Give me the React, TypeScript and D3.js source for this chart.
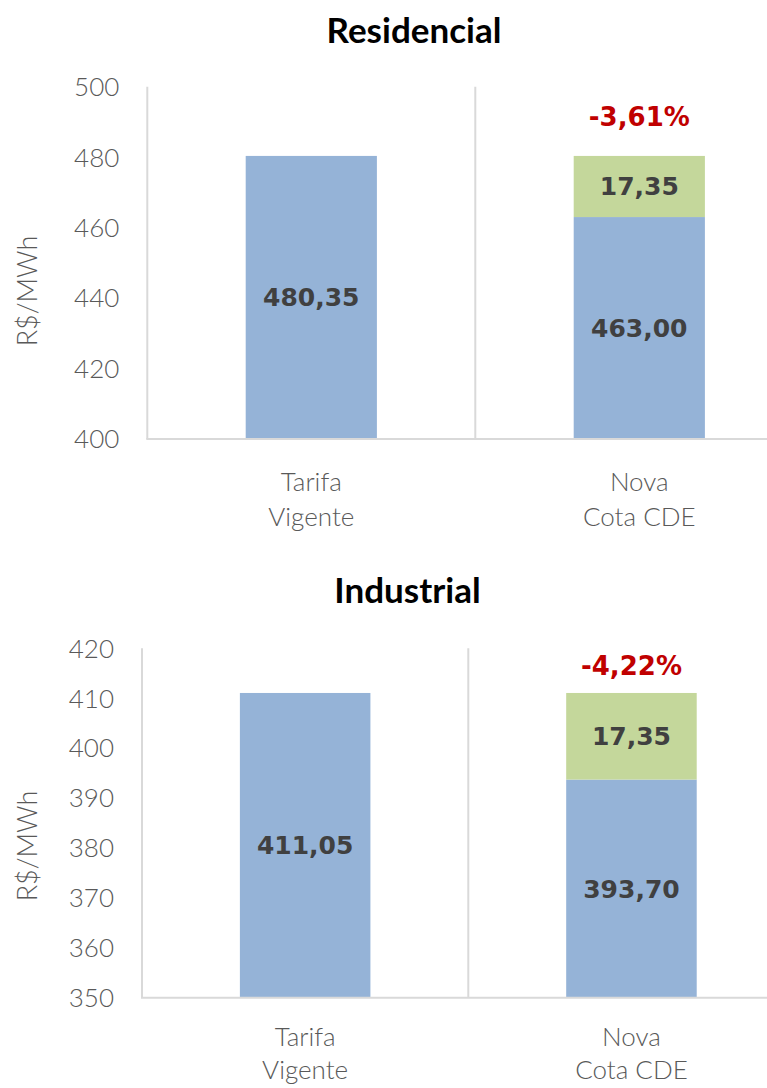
import React, { useRef, useEffect } from 'react';
import * as d3 from 'd3';

// categories (two lines each)
const categories = [['Tarifa', 'Vigente'], ['Nova', 'Cota CDE']];

// Residencial
const residencialBase = [480.35, 463.0];
const residencialCde = [0, 17.35];
const residencialTicks = [400, 420, 440, 460, 480, 500];
const residencialChange = ['', '-3,61%'];

// Industrial
const industrialBase = [411.05, 393.7];
const industrialCde = [0, 17.35];
const industrialTicks = [350, 360, 370, 380, 390, 400, 410, 420];
const industrialChange = ['', '-4,22%'];

const BLUE = '#95b3d7';
const GREEN = '#c4d79b';
const GRID = '#d9d9d9';
const AXIS_TEXT = '#595959';
const LABEL_TEXT = '#404040';
const RED = '#c00000';

const W = 767;
const H = 1088;

const ptBR = d3.formatLocale({ decimal: ',', thousands: '.', grouping: [3], currency: ['R$', ''] });
const fmt = ptBR.format('.2f');

const panels = [
  {
    title: 'Residencial', base: residencialBase, cde: residencialCde, ticks: residencialTicks, change: residencialChange,
    left: 147.3, step: 328, top: 86.7, bottom: 439, titleX: 414, titleY: 42.5, yTitleY: 291, changeGap: 30,
    catGap: 52, catLine: 35,
  },
  {
    title: 'Industrial', base: industrialBase, cde: industrialCde, ticks: industrialTicks, change: industrialChange,
    left: 142, step: 326.3, top: 648.3, bottom: 997.7, titleX: 407.5, titleY: 602.5, yTitleY: 846, changeGap: 18,
    catGap: 48, catLine: 33,
  },
];

const Chart = () => {
  const svgRef = useRef<SVGSVGElement>(null);

  useEffect(() => {
    const svg = d3.select(svgRef.current);
    svg.selectAll('*').remove();

    svg.append('rect').attr('width', W).attr('height', H).attr('fill', '#fff');

    panels.forEach(p => {
      const g = svg.append('g');
      const keys = categories.map(c => c.join(' '));

      const y = d3.scaleLinear()
        .domain([p.ticks[0], p.ticks[p.ticks.length - 1]])
        .range([p.bottom, p.top]);

      const x = d3.scaleBand()
        .domain(keys)
        .range([p.left, p.left + p.step * 2])
        .paddingInner(0.6)
        .paddingOuter(0.3);

      // axis lines and category separator
      g.append('line')
        .attr('x1', p.left).attr('x2', p.left)
        .attr('y1', p.top).attr('y2', p.bottom)
        .attr('stroke', GRID).attr('stroke-width', 2);
      g.append('line')
        .attr('x1', p.left + p.step).attr('x2', p.left + p.step)
        .attr('y1', p.top).attr('y2', p.bottom)
        .attr('stroke', GRID).attr('stroke-width', 2);

      // tick labels
      g.selectAll('text.tick')
        .data(p.ticks)
        .join('text')
        .attr('class', 'tick')
        .attr('x', p.left - 28)
        .attr('y', d => y(d))
        .attr('dy', '0.36em')
        .attr('text-anchor', 'end')
        .attr('font-family', 'Lato, sans-serif')
        .attr('font-weight', 300)
        .attr('font-size', 26)
        .attr('fill', AXIS_TEXT)
        .text(d => d);

      // bars: base (blue)
      g.selectAll('rect.base')
        .data(p.base)
        .join('rect')
        .attr('class', 'base')
        .attr('x', (d, i) => x(keys[i])!)
        .attr('width', x.bandwidth())
        .attr('y', d => y(d))
        .attr('height', d => y(p.ticks[0]) - y(d))
        .attr('fill', BLUE);

      // bars: CDE (green), stacked on top
      g.selectAll('rect.cde')
        .data(p.cde)
        .join('rect')
        .attr('class', 'cde')
        .attr('x', (d, i) => x(keys[i])!)
        .attr('width', x.bandwidth())
        .attr('y', (d, i) => y(p.base[i] + d))
        .attr('height', (d, i) => y(p.base[i]) - y(p.base[i] + d))
        .attr('fill', GREEN);

      // bottom axis line (drawn over bar bottoms)
      g.append('line')
        .attr('x1', p.left - 1).attr('x2', W)
        .attr('y1', p.bottom).attr('y2', p.bottom)
        .attr('stroke', GRID).attr('stroke-width', 2);

      // value labels
      g.selectAll('text.baseLabel')
        .data(p.base)
        .join('text')
        .attr('class', 'baseLabel')
        .attr('x', (d, i) => x(keys[i])! + x.bandwidth() / 2)
        .attr('y', d => (y(d) + y(p.ticks[0])) / 2)
        .attr('dy', '0.36em')
        .attr('text-anchor', 'middle')
        .attr('font-family', 'DejaVu Sans, sans-serif')
        .attr('font-weight', 'bold')
        .attr('font-size', 25)
        .attr('fill', LABEL_TEXT)
        .text(d => fmt(d));

      g.selectAll('text.cdeLabel')
        .data(p.cde.map((d, i) => ({ d, i })).filter(o => o.d > 0))
        .join('text')
        .attr('class', 'cdeLabel')
        .attr('x', o => x(keys[o.i])! + x.bandwidth() / 2)
        .attr('y', o => (y(p.base[o.i]) + y(p.base[o.i] + o.d)) / 2)
        .attr('dy', '0.36em')
        .attr('text-anchor', 'middle')
        .attr('font-family', 'DejaVu Sans, sans-serif')
        .attr('font-weight', 'bold')
        .attr('font-size', 25)
        .attr('fill', LABEL_TEXT)
        .text(o => fmt(o.d));

      // change labels
      g.selectAll('text.change')
        .data(p.change.map((t, i) => ({ t, i })).filter(o => o.t))
        .join('text')
        .attr('class', 'change')
        .attr('x', o => x(keys[o.i])! + x.bandwidth() / 2)
        .attr('y', o => y(p.base[o.i] + p.cde[o.i]) - p.changeGap)
        .attr('text-anchor', 'middle')
        .attr('font-family', 'DejaVu Sans, sans-serif')
        .attr('font-weight', 'bold')
        .attr('font-size', 26)
        .attr('fill', RED)
        .text(o => o.t);

      // category labels
      categories.forEach((lines, i) => {
        const t = g.append('text')
          .attr('x', x(keys[i])! + x.bandwidth() / 2)
          .attr('y', p.bottom + p.catGap)
          .attr('text-anchor', 'middle')
          .attr('font-family', 'Lato, sans-serif')
          .attr('font-weight', 300)
          .attr('font-size', 26)
          .attr('fill', AXIS_TEXT);
        lines.forEach((l, j) => {
          t.append('tspan')
            .attr('x', x(keys[i])! + x.bandwidth() / 2)
            .attr('dy', j === 0 ? 0 : p.catLine)
            .text(l);
        });
      });

      // y axis title
      g.append('text')
        .attr('transform', `translate(37, ${p.yTitleY}) rotate(-90)`)
        .attr('text-anchor', 'middle')
        .attr('font-family', 'Lato, sans-serif')
        .attr('font-weight', 300)
        .attr('font-size', 27)
        .attr('fill', AXIS_TEXT)
        .text('R$/MWh');

      // chart title
      g.append('text')
        .attr('x', p.titleX)
        .attr('y', p.titleY)
        .attr('text-anchor', 'middle')
        .attr('font-family', 'Lato, sans-serif')
        .attr('font-weight', 'bold')
        .attr('font-size', 35)
        .attr('fill', '#000')
        .text(p.title);
    });
  }, []);

  return <svg ref={svgRef} width={W} height={H} style={{ display: 'block' }}></svg>;
};

export default function App() {
  return (
    <div style={{ position: 'absolute', left: 0, top: 0 }}>
      <Chart />
    </div>
  );
}
